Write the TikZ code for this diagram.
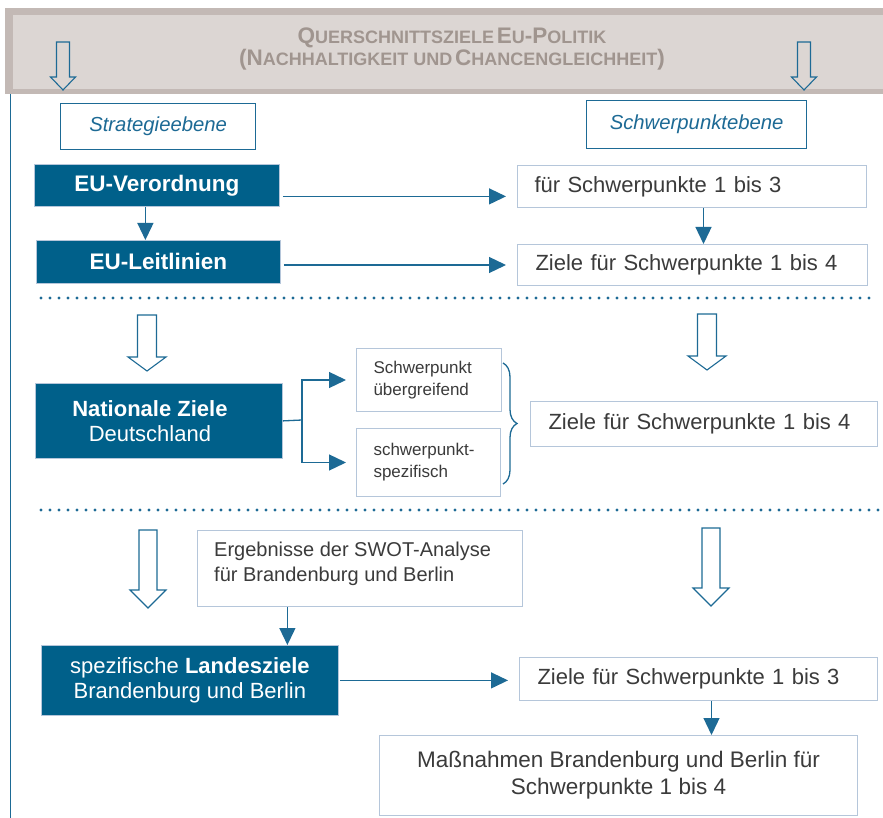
\documentclass[tikz,border=0pt]{standalone}
\usepackage{fontspec}
\setmainfont{Liberation Sans}
\usetikzlibrary{arrows.meta,decorations.pathreplacing,calc}
\definecolor{dblue}{HTML}{00608A}
\definecolor{lblue}{HTML}{1D6A95}
\definecolor{boxline}{HTML}{B5C6DA}
\definecolor{txtgray}{HTML}{3B3B3B}
\definecolor{bannerdark}{HTML}{C3B9B5}
\definecolor{bannerlight}{HTML}{DCD6D3}
\definecolor{titlegray}{HTML}{A0958F}
\newcommand\sccap[2]{{\fontsize{22.5}{23}\selectfont #1}{\fontsize{18}{23}\selectfont #2}}
\newcommand\harrow[7]{% cx, top, shaft hw, head hw, head y, tip y, fill
  \draw[hollow, fill=#7] (#1-#3,#2) -- (#1+#3,#2) -- (#1+#3,#5) -- (#1+#4,#5) -- (#1,#6) -- (#1-#4,#5) -- (#1-#3,#5) -- cycle;}
\tikzset{
  darkbox/.style={draw=boxline, line width=0.8pt, fill=dblue, text=white, anchor=north west, inner sep=0pt, align=center},
  whitebox/.style={draw=boxline, line width=1pt, fill=white, text=txtgray, anchor=north west, inner ysep=0pt},
  labelbox/.style={draw=lblue, line width=1.3pt, text=lblue, anchor=north west, inner sep=0pt, font=\itshape\fontsize{20.3}{22}\selectfont},
  arr/.style={draw=lblue, line width=1.3pt, -{Triangle[width=16pt,length=17pt]}},
  conn/.style={draw=lblue, line width=1.3pt},
  dotline/.style={draw=lblue, line width=3.4pt, line cap=round, dash pattern=on 0pt off 9pt},
  hollow/.style={draw=lblue, line width=1.1pt, line join=miter},
  big/.style={font=\fontsize{22}{25}\selectfont},
  boldlabel/.style={font=\bfseries\fontsize{22.5}{24}\selectfont}
}
\begin{document}
\begin{tikzpicture}[x=1pt,y=-1pt]
\useasboundingbox (0,0) rectangle (883,818);
\fill[white] (0,0) rectangle (883,818);
% banner
\fill[bannerdark] (5,8) rectangle (883,94);
\fill[bannerlight] (13,15) rectangle (883,89);
\node[text=titlegray, align=center, font=\bfseries, inner sep=0pt] (ttl) at (452,49)
  {\sccap{Q}{UERSCHNITTSZIELE} \sccap{E}{U}\sccap{-P}{OLITIK}\\
   \sccap{(N}{ACHHALTIGKEIT UND} \sccap{C}{HANCENGLEICHHEIT}\sccap{)}{}};
\harrow{63}{42}{6.5}{12.5}{77}{90}{bannerlight}
\harrow{804}{42}{6.5}{12.5}{77}{90}{bannerlight}
\draw[conn, line width=1.2pt] (10.5,94) -- (10.5,818);
% level labels
\node[labelbox, minimum width=195pt, minimum height=46pt] (strat) at (60,103) {Strategieebene};
\node[labelbox, minimum width=220pt, minimum height=48pt] (schw) at (586,100) {Schwerpunktebene};
% section 1
\node[darkbox, minimum width=245pt, minimum height=42pt, boldlabel] (vo) at (34,164) {EU-Verordnung};
\node[darkbox, minimum width=244pt, minimum height=43pt, boldlabel] (lei) at (36,240) {EU-Leitlinien};
\node[whitebox, big, inner xsep=17pt, text width=315pt, minimum height=42pt, align=left] (f13) at (517,165) {für Schwerpunkte 1 bis 3};
\node[whitebox, big, inner xsep=18pt, text width=314pt, minimum height=41pt, align=left] (z14) at (517,244) {Ziele für Schwerpunkte 1 bis 4};
\draw[arr] ([xshift=-11.5pt]vo.south) -- ([xshift=-11.5pt]vo.south |- lei.north);
\draw[arr, shorten <=3pt, shorten >=11pt] ([yshift=-11pt]vo.east) -- ([yshift=-11pt]vo.east -| f13.west);
\draw[arr, shorten <=3pt, shorten >=11pt] (lei.east |- z14.west) -- (z14.west);
\draw[arr] ([xshift=11.5pt]f13.south) -- ([xshift=11.5pt]f13.south |- z14.north);
\draw[dotline] (41,298) -- (872,298);
% section 2
\harrow{147}{315}{9.5}{19}{357}{371}{white}
\harrow{707}{314}{9.5}{19}{356}{370}{white}
\node[darkbox, minimum width=247pt, minimum height=75pt, big] (nat) at (35,383) {\hspace*{-18pt}\textbf{Nationale Ziele}\\\hspace*{-18pt}Deutschland};
\node[whitebox, inner xsep=17pt, text width=111pt, minimum height=63pt, align=left, font=\fontsize{17}{22}\selectfont] (sp1) at (356,348) {Schwerpunkt\\übergreifend};
\node[whitebox, inner xsep=17pt, text width=110pt, minimum height=68pt, align=left, font=\fontsize{17}{22}\selectfont] (sp2) at (356,428) {schwerpunkt-\\spezifisch};
\node[whitebox, big, inner xsep=18pt, text width=311pt, minimum height=45pt, align=left] (z14b) at (530,401) {Ziele für Schwerpunkte 1 bis 4};
\coordinate (split) at (302,420);
\draw[conn] (nat.east) -- (split);
\draw[arr, shorten >=10pt] (split) |- (sp1.west);
\draw[arr, shorten >=10pt] (split) |- (sp2.west);
\coordinate (brt) at (503,363);
\coordinate (brb) at (503,484);
\draw[conn, decorate, decoration={brace, amplitude=14pt}] (brt) -- (brb);
\draw[dotline] (41,510) -- (880,510);
% section 3
\harrow{148}{530}{9}{18}{590}{608}{white}
\harrow{711}{528}{9}{18}{588}{606}{white}
\node[whitebox, minimum width=325pt, minimum height=76pt, inner sep=0pt] (swot) at (197,530) {};
\node[anchor=north west, align=left, inner sep=0pt, text=txtgray, font=\fontsize{20}{25}\selectfont] (swottxt) at ($(swot.north west)+(17,12)$) {Ergebnisse der SWOT-Analyse\\für Brandenburg und Berlin};
\node[darkbox, minimum width=297pt, minimum height=70pt, big] (land) at (41,645) {spezifische \textbf{Landesziele}\\Brandenburg und Berlin};
\node[whitebox, big, inner xsep=18pt, text width=322pt, minimum height=43pt, align=left] (z13c) at (519,657) {Ziele für Schwerpunkte 1 bis 3};
\node[whitebox, inner sep=0pt, minimum width=478pt, minimum height=80pt, align=center, font=\fontsize{22.5}{27}\selectfont] (mass) at (379,735) {Maßnahmen Brandenburg und Berlin für\\Schwerpunkte 1 bis 4};
\path (land.north) ++(97.5,0) coordinate (la);
\draw[arr] (swot.south -| la) -- (la);
\draw[arr, shorten <=1pt, shorten >=11pt] (land.east) -- (land.east -| z13c.west);
\draw[arr] ([xshift=13pt]z13c.south) -- ([xshift=13pt]z13c.south |- mass.north);
\end{tikzpicture}
\end{document}
